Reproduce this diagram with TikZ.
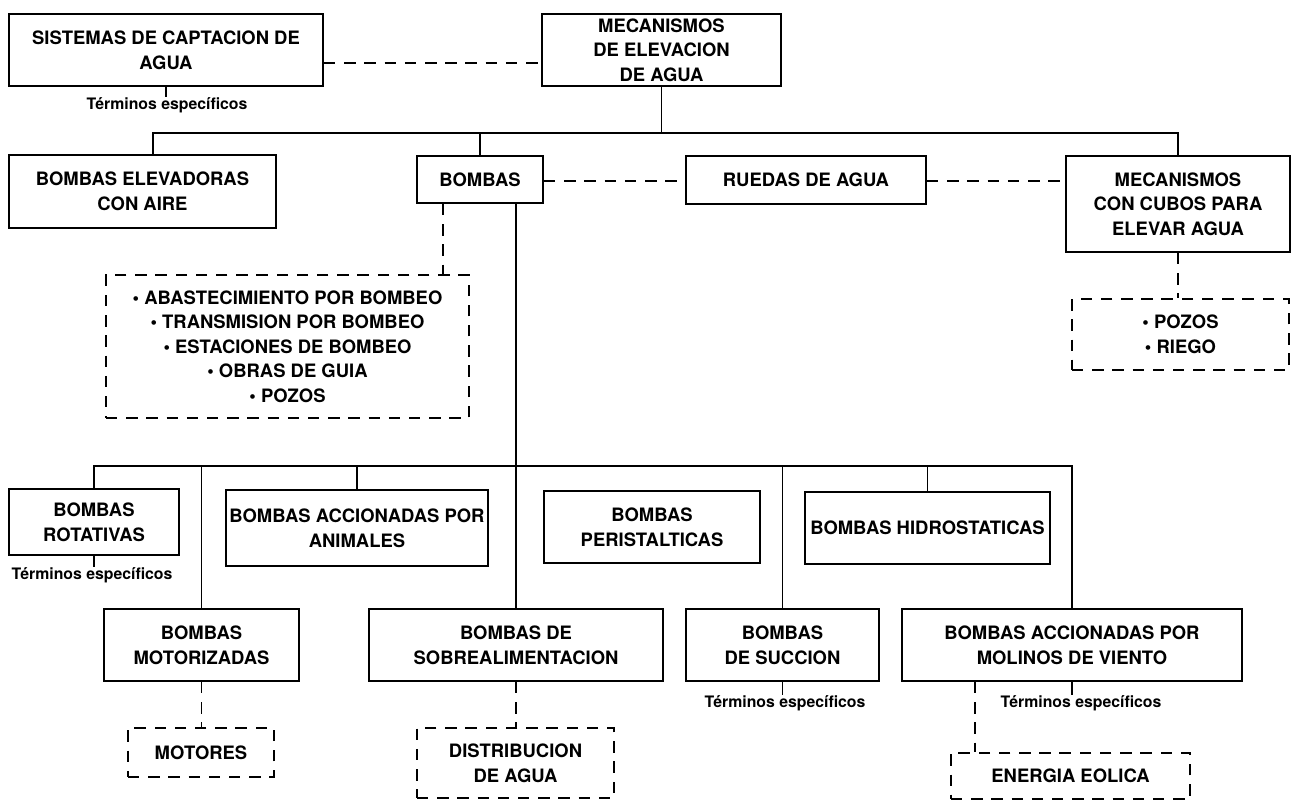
\documentclass[tikz,border=0pt]{standalone}
\usepackage{fontspec}
\setmainfont{TeX Gyre Heros}
\usepackage{tikz}

\tikzset{
  box/.style={draw, line width=1.2pt, align=center, inner sep=0pt,
    font=\fontsize{10.5}{14}\selectfont\bfseries},
  dbox/.style={box, line width=1pt, dash pattern=on 6.5pt off 5pt},
  wh/.style 2 args={minimum width=#1*0.02cm, minimum height=#2*0.02cm},
  link/.style={line width=1pt},
  dlink/.style={link, dash pattern=on 6.5pt off 5pt},
  terms/.style={inner sep=0pt, font=\fontsize{9}{10}\selectfont\bfseries}
}

\begin{document}
\begin{tikzpicture}[x=0.02cm, y=-0.02cm]
  \useasboundingbox (0,0) rectangle (1292,800);

  % heights of the two horizontal buses
  \pgfmathsetmacro{\busone}{133}
  \pgfmathsetmacro{\bustwo}{466}

  % top row
  \node[box, wh={314}{72}] (sis) at (166,50) {SISTEMAS DE CAPTACION DE\\AGUA};
  \node[box, wh={239}{72}] (mec) at (661.5,50) {MECANISMOS\\DE ELEVACION\\DE AGUA};
  \node[terms] (tsis) at (167,105) {Términos específicos};
  \draw[link] (sis.south) -- (sis.south |- tsis.north);
  \draw[dlink] (sis.east |- 0,63) -- (mec.west |- 0,63);

  % second row
  \node[box, wh={267}{73}] (bel) at (142.5,191.5) {BOMBAS ELEVADORAS\\CON AIRE};
  \node[box, wh={126}{47}] (bom) at (480,179.5) {BOMBAS};
  \node[box, wh={240}{48}] (rue) at (806,180) {RUEDAS DE AGUA};
  \node[box, wh={224}{96}] (cub) at (1178,204) {MECANISMOS\\CON CUBOS PARA\\ELEVAR AGUA};

  % first bus
  \coordinate (j1) at (mec.south |- 0,\busone);
  \draw[link] (mec.south) -- (j1);
  \draw[link] (bel.north -| 153,0) |- (j1) -| (cub.north);
  \draw[link] (bom.north) -- (bom.north |- j1);
  \draw[dlink] (bom.east |- 0,181) -- (rue.west |- 0,181);
  \draw[dlink] (rue.east |- 0,181) -- (cub.west |- 0,181);

  % related terms (dashed)
  \node[dbox, wh={363}{143}] (notes) at (287.5,346.5)
    {\textbullet\ ABASTECIMIENTO POR BOMBEO\\\textbullet\ TRANSMISION POR BOMBEO\\
     \textbullet\ ESTACIONES DE BOMBEO\\\textbullet\ OBRAS DE GUIA\\\textbullet\ POZOS};
  \node[dbox, wh={217}{71}] (usos) at (1180.5,334.5) {\textbullet\ POZOS\\\textbullet\ RIEGO};
  \draw[dlink] (bom.south -| 443,0) -- (notes.north -| 443,0);
  \draw[dlink] (cub.south) -- (cub.south |- usos.north);

  % third row
  \node[box, wh={170}{66}] (rot) at (94,522) {BOMBAS\\ROTATIVAS};
  \node[box, wh={262}{76}] (ani) at (357,528) {BOMBAS ACCIONADAS POR\\ANIMALES};
  \node[box, wh={216}{72}] (per) at (652,527) {BOMBAS\\PERISTALTICAS};
  \node[box, wh={245}{72}] (hid) at (927.5,528) {BOMBAS HIDROSTATICAS};

  % fourth row
  \node[box, wh={195}{72}] (mot) at (201.5,645) {BOMBAS\\MOTORIZADAS};
  \node[box, wh={294}{72}] (sob) at (516,645) {BOMBAS DE\\SOBREALIMENTACION};
  \node[box, wh={193}{72}] (suc) at (782.5,645) {BOMBAS\\DE SUCCION};
  \node[box, wh={340}{72}] (mol) at (1072,645) {BOMBAS ACCIONADAS POR\\MOLINOS DE VIENTO};

  % second bus
  \coordinate (j2) at (sob.north |- 0,\bustwo);
  \draw[link] (bom.south -| sob.north) -- (sob.north);
  \draw[link] (rot.north) |- (j2) -| (mol.north);
  \draw[link] (mot.north) -- (mot.north |- j2);
  \draw[link] (ani.north) -- (ani.north |- j2);
  \draw[link] (suc.north) -- (suc.north |- j2);
  \draw[link] (hid.north) -- (hid.north |- j2);

  % specific terms
  \node[terms] (trot) at (92,575) {Términos específicos};
  \draw[link] (rot.south) -- (rot.south |- trot.north);
  \node[terms] (tsuc) at (785,703) {Términos específicos};
  \draw[link] (suc.south) -- (suc.south |- tsuc.north);
  \node[terms] (tmol) at (1081,703) {Términos específicos};
  \draw[link] (mol.south) -- (mol.south |- tmol.north);

  % bottom row (dashed)
  \node[dbox, wh={146}{49}] (mtr) at (201,752.5) {MOTORES};
  \node[dbox, wh={197}{70}] (dist) at (515.5,763) {DISTRIBUCION\\DE AGUA};
  \node[dbox, wh={239}{46}] (eol) at (1070.5,776) {ENERGIA EOLICA};
  \draw[dlink] (mot.south) -- (mot.south |- mtr.north);
  \draw[dlink] (sob.south) -- (sob.south |- dist.north);
  \draw[dlink] (mol.south -| 975,0) -- (eol.north -| 975,0);
\end{tikzpicture}
\end{document}
